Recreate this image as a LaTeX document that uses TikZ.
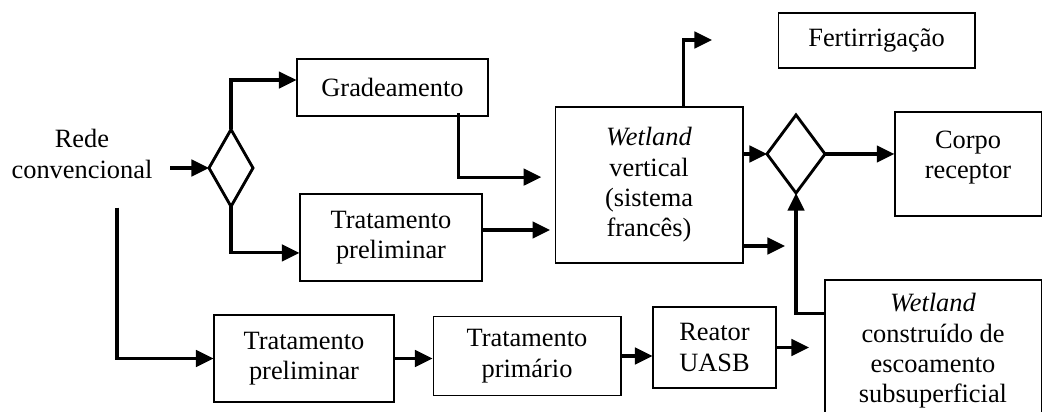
\documentclass[tikz,border=0pt]{standalone}
\usepackage{fontspec}
\setmainfont{Liberation Serif}
\usetikzlibrary{shapes.geometric}
\usetikzlibrary{arrows.meta}
\tikzset{box/.style 2 args={draw, line width=0.5pt, align=center, inner sep=0pt, minimum width=#1, minimum height=#2}, txt/.style={align=center, inner sep=0pt}, decision/.style 2 args={diamond, draw, line width=1.3pt, inner sep=0pt, outer sep=0pt, minimum width=#1, minimum height=#2}, flow/.style={line width=1.4pt, -{Triangle[length=8pt,width=7.5pt]}}}

\begin{document}
\begin{tikzpicture}[x=0.4545pt, y=-0.4545pt, font=\fontsize{12}{13.8}\selectfont]
\clip (0,0) rectangle (1044,412);
\node[txt] (rede) at (82,154) {Rede\\convencional};
\node[decision={20pt}{35pt}] (d1) at (231,168) {};
\node[box={86.8pt}{25.9pt}] (grad) at (392.5,87.5) {Gradeamento};
\node[box={82.7pt}{39.5pt}] (tp1) at (391,237.5) {Tratamento\\preliminar};
\node[box={85.4pt}{70.9pt}] (wv) at (649,185) {\textit{Wetland}\\vertical\\(sistema\\francês)};
\node[box={89.5pt}{25pt}] (fert) at (876.5,40.5) {Fertirrigação};
\node[decision={26.4pt}{35.5pt}] (d2) at (796,154) {};
\node[box={66.4pt}{47.3pt}, text depth=8.5pt] (corpo) at (968,164) {Corpo\\receptor};
\node[box={81.8pt}{39.5pt}] (tp2) at (304,358.5) {Tratamento\\preliminar};
\node[box={85.4pt}{35.5pt}] (tprim) at (527,356) {Tratamento\\primário};
\node[box={55.9pt}{36.8pt}] (reator) at (714.5,347.5) {Reator\\UASB};
\node[box={98.2pt}{64.5pt}] (wc) at (933,351) {\textit{Wetland}\\construído de\\escoamento\\subsuperficial};
\coordinate (ferttip) at (712,40);
\coordinate (wvout) at (785,246);

\draw[flow] ([xshift=8pt]rede.east |- d1.west) -- (d1.west);
\draw[flow] (d1.north) |- ([yshift=3.4pt]grad.west);
\draw[flow] (d1.south) |- ([yshift=-7pt]tp1.west);
\draw[flow, shorten <=13pt] ([xshift=15.9pt]rede.south) |- (tp2.west);
\draw[flow, shorten >=6pt] ([xshift=30.2pt, yshift=1.4pt]grad.south) |- ([yshift=3.6pt]wv.west);
\draw[flow, shorten >=2pt] ([yshift=3.4pt]tp1.east) -- ([yshift=3.4pt]tp1.east -| wv.west);
\draw[flow] ([xshift=15.5pt]wv.north) |- (ferttip);
\draw[flow] (wv.east |- d2.west) -- (d2.west);
\draw[flow] (wv.east |- wvout) -- (wvout);
\draw[flow] (d2.east) -- (d2.east -| corpo.west);
\draw[flow] ([yshift=17.2pt]wc.west) -| (d2.south);
\draw[flow] (tp2.east) -- (tp2.east -| tprim.west);
\draw[flow] (tprim.east) -- (tprim.east -| reator.west);
\draw[flow, shorten >=7pt] (reator.east) -- (reator.east -| wc.west);
\end{tikzpicture}
\end{document}
